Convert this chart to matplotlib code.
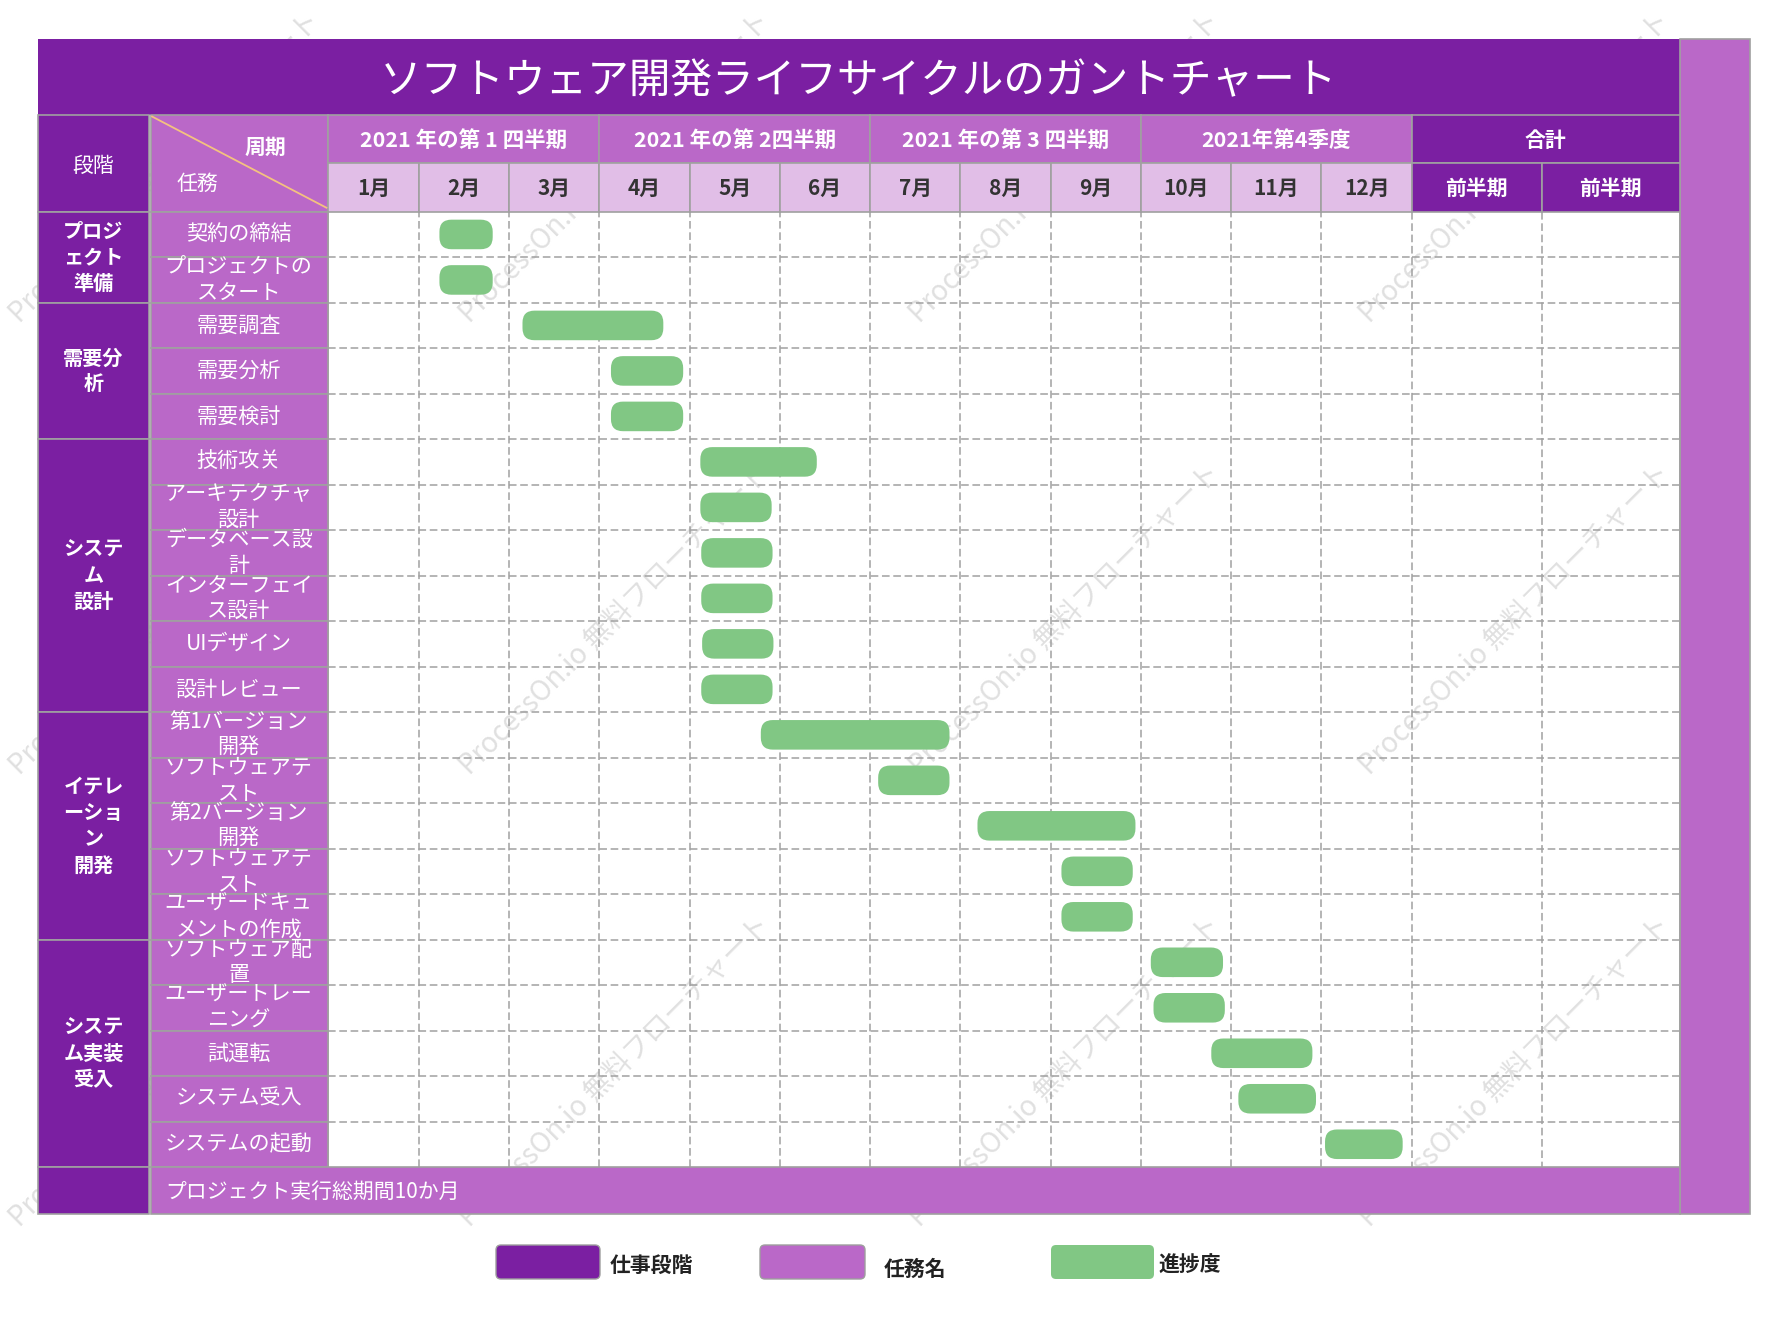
import matplotlib
matplotlib.use("Agg")
import matplotlib.pyplot as plt
from matplotlib.patches import Rectangle, FancyBboxPatch
import numpy as np

plt.rcParams['font.family'] = ['Noto Sans CJK JP', 'DejaVu Sans']

# ---------------- data ----------------
title = "ソフトウェア開発ライフサイクルのガントチャート"
header_phase = "段階"
header_period = "周期"
header_task = "任務"
quarters = ["2021 年の第 1 四半期", "2021 年の第 2四半期", "2021 年の第 3 四半期", "2021年第4季度"]
total_label = "合計"
months = ["1月", "2月", "3月", "4月", "5月", "6月", "7月", "8月", "9月", "10月", "11月", "12月"]
half_labels = ["前半期", "前半期"]
phases = ["プロジ\nェクト\n準備", "需要分\n析", "システ\nム\n設計", "イテレ\nーショ\nン\n開発", "システ\nム実装\n受入"]
phase_sizes = [2, 3, 6, 5, 5]
tasks = ["契約の締結", "プロジェクトの\nスタート", "需要調査", "需要分析", "需要検討",
         "技術攻关", "アーキテクチャ\n設計", "データベース設\n計", "インターフェイ\nス設計", "UIデザイン", "設計レビュー",
         "第1バージョン\n開発", "ソフトウェアテ\nスト", "第2バージョン\n開発", "ソフトウェアテ\nスト", "ユーザードキュ\nメントの作成",
         "ソフトウェア配\n置", "ユーザートレー\nニング", "試運転", "システム受入", "システムの起動"]
# bar start / end, in months from the beginning of January
task_start = [1.23, 1.23, 2.15, 3.13, 3.13,
              4.12, 4.12, 4.13, 4.13, 4.14, 4.13,
              4.79, 6.09, 7.19, 8.12, 8.12,
              9.11, 9.14, 9.78, 10.08, 11.04]
task_end = [1.82, 1.82, 3.71, 3.93, 3.93,
            5.41, 4.91, 4.92, 4.92, 4.93, 4.92,
            6.88, 6.88, 8.94, 8.91, 8.91,
            9.91, 9.93, 10.90, 10.94, 11.90]
summary_text = "プロジェクト実行総期間10か月"
legend_labels = ["仕事段階", "任務名", "進捗度"]
watermark = "ProcessOn.io 無料フローチャート"

# ---------------- style ----------------
DARK = "#7B1FA2"
MID = "#BA68C8"
LIGHT = "#E1BEE7"
GREEN = "#81C784"
LINE = "#A0A0A0"
DIAG = "#F4C27F"

W, H = 1785, 1333
X0, X1, X2, X3, X4, X5, X6 = 38, 149, 328.4, 1411.7, 1541.7, 1680, 1750
Y0, Y1, Y2, Y3, Y4, Y5 = 39, 114.5, 163.3, 211.7, 1167, 1213.5
DY = 2  # small text baseline correction

fig = plt.figure(figsize=(W / 100, H / 100), dpi=100)
fig.patch.set_facecolor("white")
bg = fig.add_axes([0, 0, 1, 1])
bg.set_xlim(0, W)
bg.set_ylim(H, 0)
bg.axis("off")

# watermark (under everything)
for cx in 165 + 450 * np.arange(4):
    for cy in 168 + 452 * np.arange(3):
        bg.text(cx, cy, watermark, rotation=45, rotation_mode="anchor", ha="center", va="center",
                fontsize=20, color="#E0E0E0", zorder=0)


def cell(x0, y0, x1, y1, fc, ec=LINE, lw=1.2, z=1):
    bg.add_patch(Rectangle((x0, y0), x1 - x0, y1 - y0, facecolor=fc, edgecolor=ec, linewidth=lw, zorder=z))


# title bar and right strip
cell(X0, Y0, X5, Y1, DARK, ec="none", lw=0)
bg.text((X0 + X5) / 2, 82, title, color="white", fontsize=30, ha="center", va="center", zorder=5)
cell(X5, Y0, X6, Y5, MID)

# header
cell(X0, Y1, X1, Y3, DARK)
bg.text((X0 + X1) / 2, 164 + DY, header_phase, color="white", fontsize=15, ha="center", va="center", zorder=5)
cell(X1 + 1.5, Y1, X2, Y3, MID)
bg.plot([X1 + 3, X2 - 2], [Y1 + 2, Y3 - 4], color=DIAG, lw=1.3, zorder=4)
bg.text(265, 145 + DY, header_period, color="white", fontsize=15, fontweight="bold", ha="center", va="center", zorder=5)
bg.text(197, 182 + DY, header_task, color="white", fontsize=15, ha="center", va="center", zorder=5)

mw = (X3 - X2) / len(months)
for q, lab in enumerate(quarters):
    xa, xb = X2 + 3 * q * mw, X2 + 3 * (q + 1) * mw
    cell(xa, Y1, xb, Y2, MID)
    bg.text((xa + xb) / 2, (Y1 + Y2) / 2 + DY, lab, color="white", fontsize=15.5, fontweight="bold",
            ha="center", va="center", zorder=5)
cell(X3, Y1, X5, Y2, DARK)
bg.text((X3 + X5) / 2, (Y1 + Y2) / 2 + DY, total_label, color="white", fontsize=15, fontweight="bold",
        ha="center", va="center", zorder=5)
for m, lab in enumerate(months):
    xa, xb = X2 + m * mw, X2 + (m + 1) * mw
    cell(xa, Y2, xb, Y3, LIGHT)
    bg.text((xa + xb) / 2, (Y2 + Y3) / 2 + 1, lab, color="#333333", fontsize=15, fontweight="bold",
            ha="center", va="center", zorder=5)
for (xa, xb), lab in zip([(X3, X4), (X4, X5)], half_labels):
    cell(xa, Y2, xb, Y3, DARK)
    bg.text((xa + xb) / 2, (Y2 + Y3) / 2 + 1, lab, color="white", fontsize=15, fontweight="bold",
            ha="center", va="center", zorder=5)

# phase and task columns
n = len(tasks)
rh = (Y4 - Y3) / n
r0 = 0
for ph, sz in zip(phases, phase_sizes):
    ya, yb = Y3 + r0 * rh, Y3 + (r0 + sz) * rh
    cell(X0, ya, X1, yb, DARK)
    bg.text((X0 + X1) / 2, (ya + yb) / 2, ph, color="white", fontsize=14.5, fontweight="bold",
            ha="center", va="center", linespacing=1.3, zorder=5)
    r0 += sz
for i, t in enumerate(tasks):
    ya, yb = Y3 + i * rh, Y3 + (i + 1) * rh
    cell(X1 + 1.5, ya, X2, yb, MID)
    bg.text((X1 + X2) / 2, (ya + yb) / 2, t, color="white", fontsize=15.2,
            ha="center", va="center", linespacing=1.22, zorder=5)

# total columns grid (dashed)
for i in range(1, n):
    y = Y3 + i * rh
    bg.plot([X3, X5], [y, y], color=LINE, lw=1.1, ls=(0, (5, 2.4)), zorder=2)
for x in (X3, X4):
    bg.plot([x, x], [Y3, Y4], color=LINE, lw=1.1, ls=(0, (5, 2.4)), zorder=2)
bg.plot([X5, X5], [Y3, Y4], color=LINE, lw=1.2, zorder=2)

# summary row
cell(X0, Y4, X1, Y5, DARK)
cell(X1 + 1.5, Y4, X5, Y5, MID)
bg.text(165, (Y4 + Y5) / 2 + DY, summary_text, color="white", fontsize=15, ha="left", va="center", zorder=5)

# legend
leg_boxes = [(496, 600, DARK), (760, 865, MID), (1051, 1154, GREEN)]
leg_text = [(610, 1263), (884, 1267), (1158, 1263)]
for (xa, xb, c), (tx, ty), lab in zip(leg_boxes, leg_text, legend_labels):
    bg.add_patch(FancyBboxPatch((xa, 1245), xb - xa, 34, boxstyle="round,pad=0,rounding_size=5",
                                facecolor=c, edgecolor="#9E9E9E" if c != GREEN else "none", linewidth=1, zorder=3))
    bg.text(tx, ty + DY, lab, color="#222222", fontsize=15, fontweight="bold", ha="left", va="center", zorder=5)

# ---------------- gantt area ----------------
ax = fig.add_axes([X2 / W, 1 - Y4 / H, (X3 - X2) / W, (Y4 - Y3) / H])
ax.set_xlim(0, len(months))
ax.set_ylim(n, 0)
ax.patch.set_alpha(0)
for s in ax.spines.values():
    s.set_visible(False)
ax.set_xticks([])
ax.set_yticks([])
for m in range(1, len(months)):
    ax.axvline(m, color=LINE, lw=1.1, ls=(0, (5, 2.4)), zorder=1)
for i in range(1, n):
    ax.axhline(i, color=LINE, lw=1.1, ls=(0, (5, 2.4)), zorder=1)
ax.axvline(0, color=LINE, lw=1.2, zorder=1)

bh = 0.65
r_px = 12
rs = r_px / mw
asp = mw / rh
for i, (s, e) in enumerate(zip(task_start, task_end)):
    ax.add_patch(FancyBboxPatch((s, i + 0.5 - bh / 2), e - s, bh,
                                boxstyle=f"round,pad=0,rounding_size={rs}", mutation_aspect=asp,
                                facecolor=GREEN, edgecolor="none", zorder=3))

fig.savefig("out.png", dpi=100)
